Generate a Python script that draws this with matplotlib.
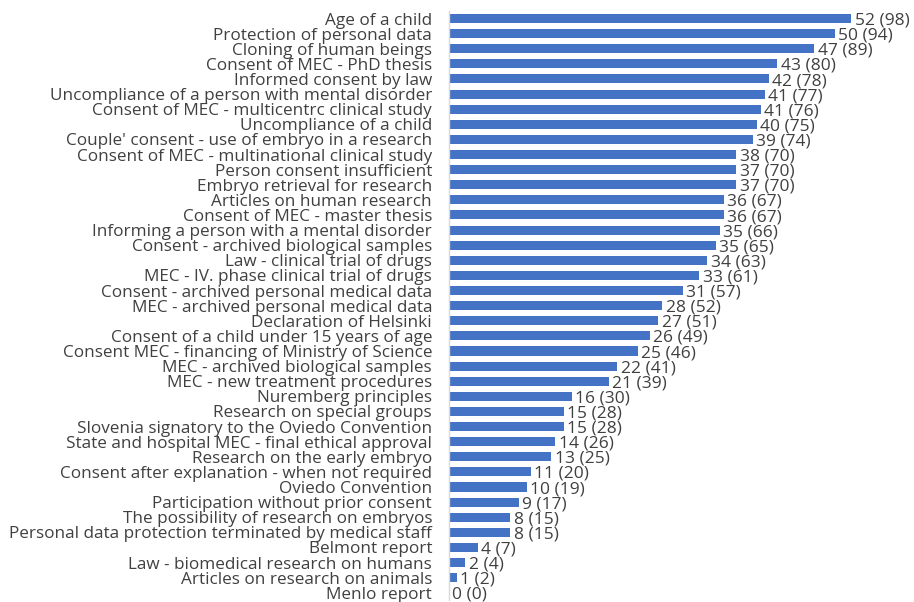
import matplotlib
matplotlib.use("Agg")
import matplotlib.pyplot as plt

categories = [
    "Age of a child",
    "Protection of personal data",
    "Cloning of human beings",
    "Consent of MEC - PhD thesis",
    "Informed consent by law",
    "Uncompliance of a person with mental disorder",
    "Consent of MEC - multicentrc clinical study",
    "Uncompliance of a child",
    "Couple' consent - use of embryo in a research",
    "Consent of MEC - multinational clinical study",
    "Person consent insufficient",
    "Embryo retrieval for research",
    "Articles on human research",
    "Consent of MEC - master thesis",
    "Informing a person with a mental disorder",
    "Consent - archived biological samples",
    "Law - clinical trial of drugs",
    "MEC - IV. phase clinical trial of drugs",
    "Consent - archived personal medical data",
    "MEC - archived personal medical data",
    "Declaration of Helsinki",
    "Consent of a child under 15 years of age",
    "Consent MEC - financing of Ministry of Science",
    "MEC - archived biological samples",
    "MEC - new treatment procedures",
    "Nuremberg principles",
    "Research on special groups",
    "Slovenia signatory to the Oviedo Convention",
    "State and hospital MEC - final ethical approval",
    "Research on the early embryo",
    "Consent after explanation - when not required",
    "Oviedo Convention",
    "Participation without prior consent",
    "The possibility of research on embryos",
    "Personal data protection terminated by medical staff",
    "Belmont report",
    "Law - biomedical research on humans",
    "Articles on research on animals",
    "Menlo report",
]

counts = [52, 50, 47, 43, 42, 41, 41, 40, 39, 38, 37, 37, 36, 36, 35, 35, 34, 33,
          31, 28, 27, 26, 25, 22, 21, 16, 15, 15, 14, 13, 11, 10, 9, 8, 8, 4, 2, 1, 0]
percents = [98, 94, 89, 80, 78, 77, 76, 75, 74, 70, 70, 70, 67, 67, 66, 65, 63, 61,
            57, 52, 51, 49, 46, 41, 39, 30, 28, 28, 26, 25, 20, 19, 17, 15, 15, 7, 4, 2, 0]

text_color = "#404040"
bar_color = "#4472C4"
font = ["Open Sans", "DejaVu Sans"]

fig = plt.figure(figsize=(9.14, 6.02), dpi=100)
ax = fig.add_axes([0.491, 0.0028, 0.494, 0.979])

y = list(range(len(categories)))
ax.barh(y, percents, height=0.6, color=bar_color)

for yi, n, p in zip(y, counts, percents):
    ax.annotate(f"{n} ({p})", xy=(p, yi), xytext=(2.5, -1.5), textcoords="offset points",
                ha="left", va="center", fontsize=12.5, color=text_color, family=font)

ax.set_yticks(y)
ax.set_yticklabels(categories, fontsize=12.3, color=text_color, family=font)
ax.tick_params(axis="y", length=0, pad=12)
ax.set_ylim(len(categories) - 0.5, -0.5)
ax.set_xlim(0, 110)
ax.set_xticks([])

for side in ("top", "right", "bottom"):
    ax.spines[side].set_visible(False)
ax.spines["left"].set_color("#d9d9d9")
ax.spines["left"].set_linewidth(1.0)

fig.savefig("out.png", dpi=100)
